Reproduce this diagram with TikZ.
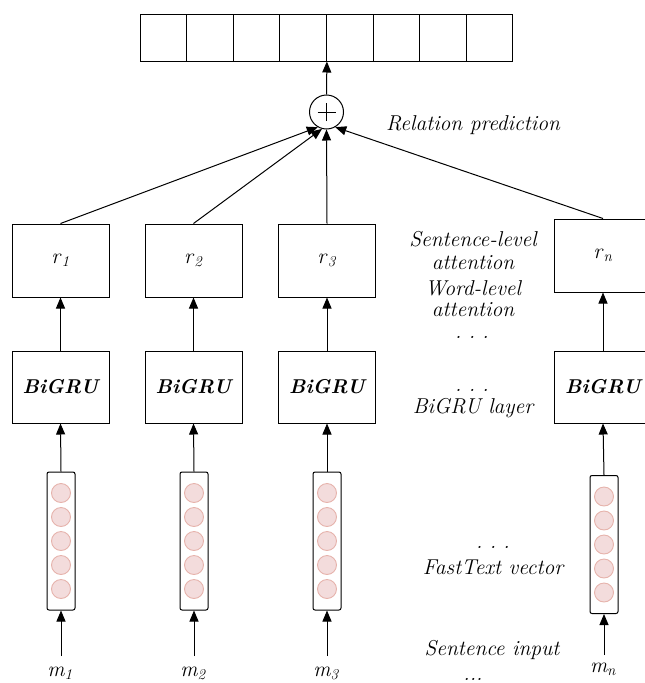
\documentclass[tikz,border=0pt]{standalone}
\usetikzlibrary{arrows.meta}
\definecolor{dotfill}{HTML}{F3DCDC}
\definecolor{dotline}{HTML}{E6B3AC}
\newcommand\lbsub[2]{\textit{#1}\textsubscript{\textit{#2}}}
\tikzset{
  every node/.style={font=\fontsize{21.5}{24}\selectfont},
  cell/.style={draw, line width=1pt, minimum width=46.6pt, minimum height=47pt, inner sep=0pt},
  rbox/.style={draw, line width=1pt, minimum width=97pt, minimum height=73pt, inner sep=0pt},
  gru/.style={draw, line width=1pt, minimum width=97pt, minimum height=72pt, inner sep=0pt,
              font=\fontsize{20}{22}\selectfont\bfseries\itshape},
  vec/.style={draw, line width=1pt, rounded corners=2pt, minimum width=28pt, minimum height=138pt, inner sep=0pt},
  unit/.style={circle, draw=dotline, fill=dotfill, line width=0.9pt, minimum size=19pt, inner sep=0pt},
  lbl/.style={font=\fontsize{21.5}{24}\selectfont\itshape, inner sep=0pt},
  conn/.style={line width=1pt, -{Triangle[length=11pt,width=9pt]}},
}
\begin{document}
\begin{tikzpicture}[x=1pt,y=-1pt]
\useasboundingbox (0,0) rectangle (645,683);
\begin{scope}
\clip (0,0) rectangle (645,683);

% output vector
\foreach \i in {1,...,8}
  \node[cell] (c\i) at ({140+46.6*(\i-0.5)},37.5) {};

% sum node
\node[circle, draw, line width=1pt, minimum size=34pt, inner sep=0pt] (sum) at (326.5,112) {};
\draw[line width=0.9pt] ([xshift=-9pt]sum.center) -- ([xshift=9pt]sum.center)
                        ([yshift=-9pt]sum.center) -- ([yshift=9pt]sum.center);

% sentence representations
\node[rbox] (r1) at (60.5,260.5) {\lbsub{r}{1}};
\node[rbox] (r2) at (193.5,260.5) {\lbsub{r}{2}};
\node[rbox] (r3) at (327,260.5) {\lbsub{r}{3}};
\node[rbox] (rn) at (603,255.5) {\lbsub{r}{n}};

% BiGRU encoders
\node[gru] (g1) at (60.5,387) {BiGRU};
\node[gru] (g2) at (193.5,387) {BiGRU};
\node[gru] (g3) at (327,387) {BiGRU};
\node[gru] (gn) at (603,387) {BiGRU};

% FastText vectors
\node[vec] (v1) at (61,541) {};
\node[vec] (v2) at (194,541) {};
\node[vec] (v3) at (327,541) {};
\node[vec] (vn) at (604,544.5) {};
\foreach \v in {v1,v2,v3,vn}
  \foreach \k in {-2,...,2}
    \node[unit] at ([yshift=\k*24pt]\v.center) {};

% sentence inputs
\node[lbl] (m1) at (60,673) {\lbsub{m}{1}};
\node[lbl] (m2) at (193,673) {\lbsub{m}{2}};
\node[lbl] (m3) at (326,673) {\lbsub{m}{3}};
\node[lbl] (mn) at (603,669) {\lbsub{m}{n}};
\coordinate (s1) at (61,656);
\coordinate (s2) at (194,656);
\coordinate (s3) at (327,656);
\coordinate (sn) at (604,655);

% connectors
\foreach \i in {1,2,3,n} {
  \draw[conn] (s\i) -- (v\i.south);
  \draw[conn] (v\i.north) -- (g\i.south);
  \draw[conn] (g\i.north) -- (r\i.south);
}
\draw[conn] (r1.north) -- (sum.240);
\draw[conn] (r2.north) -- (sum.255);
\draw[conn] (r3.north) -- (sum.south);
\draw[conn] (rn.north) -- (sum.300);
\draw[conn] (sum.north) -- (c4.south east);

% layer captions
\node[lbl] (t1) at (473,125) {Relation prediction};
\node[lbl] (t2) at (473,239) {Sentence-level};
\node[lbl] (t3) at (473,263) {attention};
\node[lbl] (t4) at (473,288) {Word-level};
\node[lbl] (t5) at (473,310) {attention};
\node[lbl, anchor=base] (t6) at (472,338) {.\,\,.\,\,.};
\node[lbl, anchor=base] (t7) at (472,391) {.\,\,.\,\,.};
\node[lbl] (t8) at (473,408) {BiGRU layer};
\node[lbl, anchor=base] (t9) at (493,548) {.\,\,.\,\,.};
\node[lbl] (t10) at (493,567) {FastText vector};
\node[lbl] (t11) at (492,650) {Sentence input};
\node[lbl, anchor=base] (t12) at (473,680) {...};
\end{scope}
\end{tikzpicture}
\end{document}
